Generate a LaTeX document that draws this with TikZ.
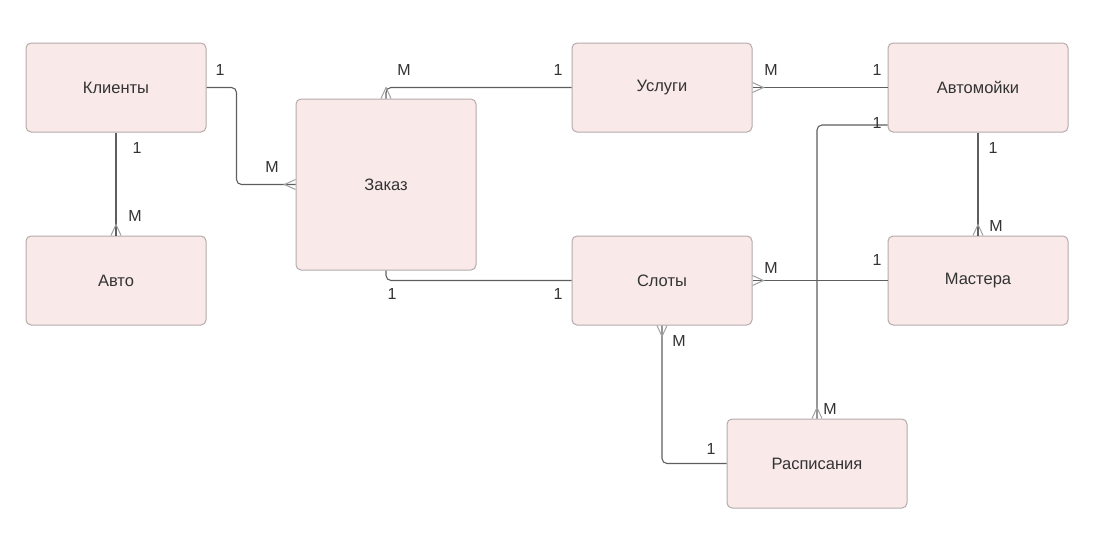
\documentclass[tikz,border=0pt]{standalone}
\usepackage{fontspec}
\setmainfont{Liberation Sans}
\definecolor{boxfill}{HTML}{F9E9E9}
\definecolor{boxline}{HTML}{B5ABAB}
\definecolor{connc}{HTML}{5E5E5E}
\definecolor{crowc}{HTML}{A0A0A0}
\definecolor{txt}{HTML}{333333}
\begin{document}
\begin{tikzpicture}[x=1pt,y=-1pt,
  entity/.style={draw=boxline, fill=boxfill, line width=1pt, rounded corners=5pt,
    minimum width=180pt, minimum height=89pt, inner sep=0pt, text=txt,
    font=\fontsize{16.5}{19}\selectfont},
  conn/.style={draw=connc, line width=1.1pt, rounded corners=5pt},
  card/.style={text=txt, font=\fontsize{16}{19}\selectfont, inner sep=0pt},
  crowline/.style={draw=crowc, line width=1pt},
  crow/.pic={\draw[crowline] (0,-5) -- (11,0) -- (0,5);}
]
\useasboundingbox (0,0) rectangle (1106,549);
\node[entity] (kl) at (116,87.5) {Клиенты};
\node[entity] (avto) at (116,280.5) {Авто};
\node[entity, minimum height=171pt] (zak) at (386,184.5) {Заказ};
\node[entity] (usl) at (662,87.5) {Услуги};
\node[entity] (avt) at (978,87.5) {Автомойки};
\node[entity] (slo) at (662,280.5) {Слоты};
\node[entity] (mas) at (978,280.5) {Мастера};
\node[entity] (ras) at (817,463.5) {Расписания};

\draw[conn] (kl.east) -- ++(30,0) |- (zak.west);
\draw[conn] (kl.south) -- (avto.north);
\draw[conn] (usl.west) -| (zak.north);
\draw[conn] (usl.east) -- (avt.west);
\draw[conn] ([yshift=-37.5pt]avt.west) -| (ras.north);
\draw[conn] (avt.south) -- (mas.north);
\draw[conn] (slo.east) -- (mas.west);
\draw[conn] (zak.south) |- (slo.west);
\draw[conn] (slo.south) |- (ras.west);

\pic[rotate=180] at (zak.west) {crow};
\pic[rotate=90] at (avto.north) {crow};
\pic[rotate=90] at (zak.north) {crow};
\pic at (usl.east) {crow};
\pic[rotate=90] at (ras.north) {crow};
\pic[rotate=90] at (mas.north) {crow};
\pic at (slo.east) {crow};
\pic[rotate=-90] at (slo.south) {crow};

\node[card] (c1) at (220,70) {1};
\node[card] (c2) at (272,167) {M};
\node[card] (c3) at (137,148) {1};
\node[card] (c4) at (135,216) {M};
\node[card] (c5) at (404,70) {M};
\node[card] (c6) at (558,70) {1};
\node[card] (c7) at (771,70) {M};
\node[card] (c8) at (877,70) {1};
\node[card] (c9) at (877,123) {1};
\node[card] (c10) at (830,409) {M};
\node[card] (c11) at (993,148) {1};
\node[card] (c12) at (996,226) {M};
\node[card] (c13) at (771,268) {M};
\node[card] (c14) at (877,260) {1};
\node[card] (c15) at (392,294) {1};
\node[card] (c16) at (558,294) {1};
\node[card] (c17) at (679,341) {M};
\node[card] (c18) at (711,449) {1};
\end{tikzpicture}
\end{document}
